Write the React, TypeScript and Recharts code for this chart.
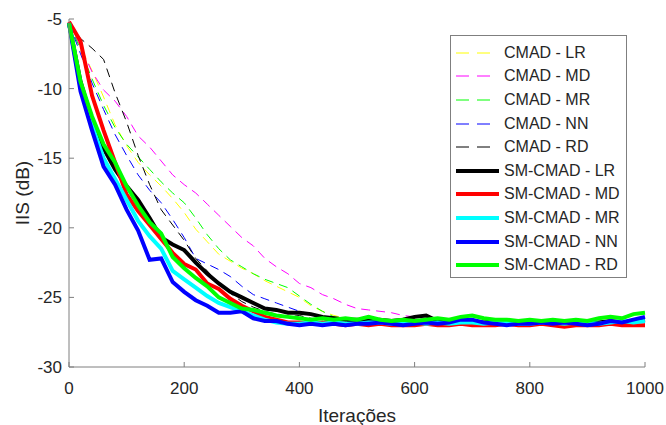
import { LineChart, Line, XAxis, YAxis, Legend, Label } from "recharts";

// iteration grid (every 20 iterations)
const iterations = Array.from({ length: 51 }, (_, i) => i * 20);

const xTicks = [0, 200, 400, 600, 800, 1000];
const yTicks = [-30, -25, -20, -15, -10, -5];

// CMAD (dashed)
const cmadLR = [-5.3, -7.0, -8.7, -10.6, -12.6, -14.1, -15.3, -16.2, -17.0, -17.9, -18.9, -20.1, -21.0, -21.9, -22.4, -22.9, -23.3, -23.8, -24.2, -24.6, -25.0, -25.6, -26.0, -26.3, -26.5, -26.7, -26.8, -26.8, -26.9, -26.8, -26.9, -26.8, -26.9, -26.9, -26.8, -26.9, -26.9, -26.8, -26.9, -26.9, -26.8, -26.9, -26.9, -26.8, -26.9, -26.9, -26.8, -26.9, -26.8, -26.8, -26.8];
const cmadMD = [-5.3, -7.0, -8.8, -10.1, -10.9, -12.0, -13.4, -14.2, -15.2, -16.2, -16.9, -17.5, -18.3, -19.1, -19.9, -20.7, -21.3, -22.2, -22.8, -23.3, -24.0, -24.3, -24.8, -25.1, -25.5, -25.8, -25.9, -26.0, -26.1, -26.3, -26.4, -26.6, -26.8, -26.9, -26.9, -26.8, -26.9, -26.9, -26.8, -26.9, -26.9, -26.8, -26.9, -26.9, -26.8, -26.9, -26.9, -26.8, -26.9, -26.9, -26.9];
const cmadMR = [-5.3, -7.2, -9.3, -11.2, -12.8, -14.0, -14.9, -15.8, -16.7, -17.5, -18.2, -19.3, -20.5, -21.5, -22.3, -22.8, -23.3, -23.7, -24.0, -24.3, -24.9, -25.5, -26.0, -26.4, -26.5, -26.6, -26.7, -26.8, -26.8, -26.7, -26.8, -26.8, -26.7, -26.8, -26.8, -26.7, -26.8, -26.8, -26.7, -26.8, -26.8, -26.7, -26.8, -26.8, -26.7, -26.8, -26.8, -26.7, -26.8, -26.8, -26.8];
const cmadNN = [-5.3, -7.5, -9.6, -11.5, -13.3, -14.8, -16.2, -17.3, -18.2, -19.4, -20.7, -22.2, -22.6, -23.0, -23.5, -24.2, -24.8, -25.1, -25.4, -25.7, -26.0, -26.2, -26.4, -26.6, -26.7, -26.8, -26.8, -26.9, -26.8, -26.9, -26.9, -26.8, -26.9, -26.9, -26.8, -26.9, -26.9, -26.8, -26.9, -26.9, -26.8, -26.9, -26.9, -26.8, -26.9, -26.9, -26.8, -26.9, -26.8, -26.8, -26.8];
const cmadRD = [-5.3, -6.4, -7.1, -7.9, -10.3, -12.4, -14.8, -16.9, -18.7, -19.8, -20.9, -22.2, -23.1, -24.0, -24.7, -25.3, -25.7, -26.0, -26.2, -26.4, -26.3, -26.5, -26.6, -26.7, -26.8, -26.8, -26.9, -26.8, -26.8, -26.9, -26.8, -26.8, -26.9, -26.8, -26.8, -26.9, -26.8, -26.8, -26.9, -26.8, -26.8, -26.9, -26.8, -26.8, -26.9, -26.8, -26.8, -26.9, -26.8, -26.8, -26.8];

// SM-CMAD (thick)
const smLR = [-5.3, -9.5, -12.3, -14.3, -15.8, -17.0, -18.0, -19.3, -20.7, -21.2, -21.6, -22.5, -23.3, -24.0, -24.6, -25.0, -25.4, -25.8, -25.9, -26.1, -26.1, -26.2, -26.4, -26.5, -26.6, -26.6, -26.7, -26.6, -26.7, -26.6, -26.4, -26.3, -26.7, -26.8, -26.7, -26.8, -26.8, -26.7, -26.8, -26.9, -26.8, -26.8, -26.7, -26.8, -26.8, -26.9, -26.8, -26.7, -26.8, -26.7, -26.6];
const smMD = [-5.2, -6.6, -10.5, -13.0, -15.3, -17.6, -18.8, -19.8, -20.8, -21.8, -22.6, -23.0, -24.0, -24.4, -25.1, -25.6, -26.0, -26.4, -26.6, -26.8, -26.8, -26.9, -26.8, -26.9, -27.0, -26.9, -27.0, -26.9, -27.0, -27.0, -27.0, -26.9, -27.0, -27.0, -26.9, -27.0, -27.0, -27.0, -26.9, -27.0, -27.0, -26.9, -27.0, -27.1, -27.0, -27.0, -27.0, -26.9, -27.0, -27.0, -27.0];
const smMR = [-5.3, -9.8, -12.6, -15.0, -16.5, -18.0, -19.5, -20.6, -21.5, -23.1, -23.7, -24.3, -24.9, -25.4, -25.7, -26.0, -26.3, -26.6, -26.8, -26.9, -26.9, -26.8, -26.9, -26.8, -26.9, -26.9, -26.8, -26.8, -26.9, -26.8, -26.8, -26.9, -26.8, -26.9, -26.8, -26.8, -26.9, -26.8, -26.8, -26.9, -26.9, -26.8, -26.8, -26.9, -26.8, -26.8, -26.9, -26.8, -26.7, -26.8, -26.7];
const smNN = [-5.3, -10.2, -13.0, -15.6, -16.9, -18.7, -20.2, -22.3, -22.2, -23.9, -24.6, -25.2, -25.6, -26.1, -26.1, -26.0, -26.5, -26.7, -26.7, -26.9, -27.0, -26.9, -27.0, -26.9, -27.0, -26.9, -26.9, -26.8, -26.9, -27.0, -26.9, -26.8, -26.9, -26.8, -26.6, -26.6, -26.8, -26.9, -27.0, -26.9, -26.9, -26.8, -26.9, -26.8, -26.9, -27.0, -26.9, -26.7, -26.8, -26.6, -26.4];
const smRD = [-5.3, -9.5, -12.0, -14.0, -15.3, -17.0, -18.4, -19.6, -20.4, -22.1, -22.9, -23.6, -24.2, -25.0, -25.4, -25.8, -25.9, -26.1, -26.3, -26.4, -26.5, -26.6, -26.5, -26.6, -26.5, -26.6, -26.4, -26.6, -26.7, -26.6, -26.7, -26.6, -26.5, -26.6, -26.4, -26.3, -26.5, -26.6, -26.6, -26.7, -26.6, -26.7, -26.6, -26.7, -26.6, -26.7, -26.5, -26.4, -26.5, -26.2, -26.1];

const series = [
  { key: "cmadLR", name: "CMAD - LR", color: "#ffff00", dashed: true, values: cmadLR },
  { key: "cmadMD", name: "CMAD - MD", color: "#ff00ff", dashed: true, values: cmadMD },
  { key: "cmadMR", name: "CMAD - MR", color: "#00ff00", dashed: true, values: cmadMR },
  { key: "cmadNN", name: "CMAD - NN", color: "#0000ff", dashed: true, values: cmadNN },
  { key: "cmadRD", name: "CMAD - RD", color: "#000000", dashed: true, values: cmadRD },
  { key: "smLR", name: "SM-CMAD - LR", color: "#000000", dashed: false, values: smLR },
  { key: "smMD", name: "SM-CMAD - MD", color: "#ff0000", dashed: false, values: smMD },
  { key: "smMR", name: "SM-CMAD - MR", color: "#00ffff", dashed: false, values: smMR },
  { key: "smNN", name: "SM-CMAD - NN", color: "#0000ff", dashed: false, values: smNN },
  { key: "smRD", name: "SM-CMAD - RD", color: "#00ff00", dashed: false, values: smRD },
];

const data = iterations.map((x, i) => {
  const row: Record<string, number> = { x };
  series.forEach((s) => {
    row[s.key] = s.values[i];
  });
  return row;
});

const FONT = "'Liberation Sans', Arial, sans-serif";
const AXIS = "#7f7f7f";
const TEXT = "#262626";

function LegendBox() {
  return (
    <div
      style={{
        width: 177,
        height: 243,
        boxSizing: "border-box",
        border: `1px solid ${AXIS}`,
        background: "#fff",
        paddingTop: 5,
        fontFamily: FONT,
        fontSize: 16,
        color: TEXT,
      }}
    >
      {series.map((s) => (
        <div
          key={s.key}
          style={{ height: 23.6, display: "flex", alignItems: "center" }}
        >
          <svg width={53} height={12} style={{ flexShrink: 0 }}>
            {s.dashed ? (
              <line x1={5} y1={6} x2={43} y2={6} stroke={s.color} strokeWidth={1} strokeDasharray="13 8" />
            ) : (
              <line x1={5} y1={6} x2={48} y2={6} stroke={s.color} strokeWidth={4} />
            )}
          </svg>
          <span style={{ whiteSpace: "nowrap" }}>{s.name}</span>
        </div>
      ))}
    </div>
  );
}

export default function App() {
  return (
    <div style={{ position: "absolute", left: 0, top: 0, background: "#fff" }}>
      <LineChart
        width={666}
        height={425}
        data={data}
        margin={{ top: 19, right: 21, bottom: 0, left: 19 }}
      >
        <XAxis
          dataKey="x"
          type="number"
          domain={[0, 1000]}
          ticks={xTicks}
          height={58}
          axisLine={{ stroke: AXIS }}
          tickLine={{ stroke: AXIS }}
          tickSize={-5}
          tickMargin={20}
          tick={{ fill: TEXT, fontSize: 17, fontFamily: FONT }}
        >
          <Label
            content={({ viewBox }: any) => (
              <text
                x={viewBox.x + viewBox.width / 2}
                y={422}
                textAnchor="middle"
                fill={TEXT}
                fontSize={19}
                fontFamily={FONT}
              >
                Iterações
              </text>
            )}
          />
        </XAxis>
        <YAxis
          type="number"
          domain={[-30, -5]}
          ticks={yTicks}
          width={50}
          axisLine={{ stroke: AXIS }}
          tickLine={{ stroke: AXIS }}
          tickSize={-5}
          tickMargin={12}
          tick={{ fill: TEXT, fontSize: 17, fontFamily: FONT }}
        >
          <Label
            content={({ viewBox }: any) => {
              const cx = 22;
              const cy = viewBox.y + viewBox.height / 2;
              return (
                <text
                  x={cx}
                  y={cy}
                  transform={`rotate(-90 ${cx} ${cy})`}
                  textAnchor="middle"
                  dominantBaseline="central"
                  fill={TEXT}
                  fontSize={19}
                  fontFamily={FONT}
                >
                  IIS (dB)
                </text>
              );
            }}
          />
        </YAxis>
        {series.map((s) => (
          <Line
            key={s.key}
            dataKey={s.key}
            name={s.name}
            type="linear"
            stroke={s.color}
            strokeWidth={s.dashed ? 1 : 4}
            strokeDasharray={s.dashed ? "9 6" : undefined}
            dot={false}
            activeDot={false}
            isAnimationActive={false}
          />
        ))}
        <Legend
          layout="vertical"
          align="center"
          verticalAlign="middle"
          content={() => <LegendBox />}
          wrapperStyle={{ left: 450, top: 35, width: 177, height: 243 }}
        />
      </LineChart>
    </div>
  );
}
